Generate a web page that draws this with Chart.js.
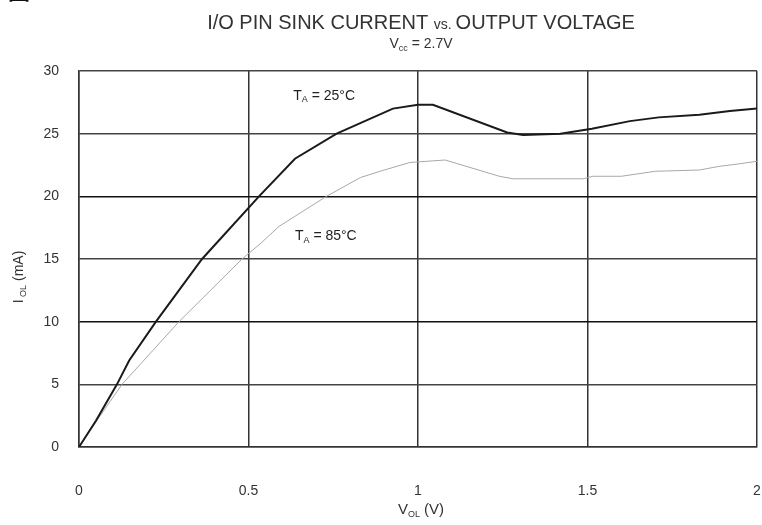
<!DOCTYPE html>
<html>
<head>
<meta charset="utf-8">
<script src="https://cdn.jsdelivr.net/npm/chart.js@4/dist/chart.umd.min.js"></script>
<style>
html,body{margin:0;padding:0;background:#fff;}
#wrap{position:relative;width:762px;height:525px;}
</style>
</head>
<body>
<div id="wrap"><canvas id="c" width="762" height="525"></canvas></div>
<script>
// ---- data ----
const v25 = [0, 0.05, 0.112, 0.148, 0.227, 0.363, 0.531, 0.637, 0.76, 0.926, 1.0, 1.044, 1.263, 1.31, 1.42, 1.513, 1.625, 1.71, 1.83, 1.92, 2.0];
const i25 = [0, 2.1, 5, 6.9, 10, 15, 20, 23, 25, 27, 27.3, 27.3, 25.1, 24.9, 25.0, 25.4, 26.0, 26.3, 26.5, 26.8, 27.0];
const v85 = [0, 0.05, 0.127, 0.295, 0.481, 0.534, 0.59, 0.73, 0.83, 0.888, 0.976, 1.08, 1.24, 1.28, 1.487, 1.516, 1.6, 1.7, 1.83, 1.89, 1.95, 2.0];
const i85 = [0, 2.0, 5, 10, 15, 16.2, 17.6, 20, 21.5, 22.0, 22.7, 22.9, 21.6, 21.4, 21.4, 21.6, 21.6, 22.0, 22.1, 22.4, 22.6, 22.8];
const xTicks = [0, 0.5, 1, 1.5, 2];
const yTicks = [0, 5, 10, 15, 20, 25, 30];
const seriesLabels = ["TA = 25°C", "TA = 85°C"];

const toPts = (xs, ys) => xs.map((x, k) => ({x: x, y: ys[k]}));
const FONT = "'Liberation Sans', Arial, sans-serif";

// draws text with subscript pieces: parts = [[text, isSub], ...]
function drawRich(ctx, parts, x, y, size, align) {
  const subSize = Math.round(size * 0.62);
  let total = 0;
  parts.forEach(p => { ctx.font = (p[1] ? subSize : size) + "px " + FONT; total += ctx.measureText(p[0]).width; });
  let cx = align === "center" ? x - total / 2 : x;
  ctx.textAlign = "left";
  ctx.textBaseline = "alphabetic";
  parts.forEach(p => {
    ctx.font = (p[1] ? subSize : size) + "px " + FONT;
    ctx.fillText(p[0], cx, p[1] ? y + size * 0.18 : y);
    cx += ctx.measureText(p[0]).width;
  });
}

const textPlugin = {
  id: "texts",
  afterDraw(chart) {
    const ctx = chart.ctx;
    const xs = chart.scales.x, ys = chart.scales.y;
    ctx.save();
    ctx.fillStyle = "#111";
    // clipped caption at top-left
    ctx.font = "bold 22px 'Noto Sans CJK SC'";
    ctx.textBaseline = "bottom";
    ctx.textAlign = "left";
    ctx.fillText("图 51", 8, 2);
    // title
    ctx.fillStyle = "#333";
    const cx = (chart.chartArea.left + chart.chartArea.right) / 2 + 3;
    const t1 = "I/O PIN SINK CURRENT ", t2 = "vs. ", t3 = "OUTPUT VOLTAGE";
    ctx.font = "20px " + FONT; const w1 = ctx.measureText(t1).width, w3 = ctx.measureText(t3).width;
    ctx.font = "14px " + FONT; const w2 = ctx.measureText(t2).width;
    let sx = cx - (w1 + w2 + w3) / 2;
    ctx.textAlign = "left"; ctx.textBaseline = "alphabetic";
    ctx.font = "20px " + FONT; ctx.fillText(t1, sx, 29); sx += w1;
    ctx.font = "14px " + FONT; ctx.fillText(t2, sx, 29); sx += w2;
    ctx.font = "20px " + FONT; ctx.fillText(t3, sx, 29);
    // subtitle
    drawRich(ctx, [["V", false], ["cc", true], [" = 2.7V", false]], cx, 48, 14, "center");
    // x axis title
    drawRich(ctx, [["V", false], ["OL", true], [" (V)", false]], cx, 514, 15, "center");
    // y axis title (rotated)
    ctx.save();
    ctx.translate(23, 277);
    ctx.rotate(-Math.PI / 2);
    drawRich(ctx, [["I", false], [" OL", true], [" (mA)", false]], 0, 0, 14, "center");
    ctx.restore();
    // series annotations
    ctx.fillStyle = "#222";
    drawRich(ctx, [["T", false], ["A", true], [" = 25°C", false]], xs.getPixelForValue(0.632), ys.getPixelForValue(27.7), 14, "left");
    drawRich(ctx, [["T", false], ["A", true], [" = 85°C", false]], xs.getPixelForValue(0.637), ys.getPixelForValue(16.5), 14, "left");
    ctx.restore();
  }
};

new Chart(document.getElementById("c"), {
  type: "line",
  data: {
    datasets: [
      { label: seriesLabels[0], data: toPts(v25, i25), borderColor: "#1a1a1a", borderWidth: 2, pointRadius: 0, tension: 0 },
      { label: seriesLabels[1], data: toPts(v85, i85), borderColor: "#a8a8a8", borderWidth: 1, pointRadius: 0, tension: 0 }
    ]
  },
  options: {
    responsive: false,
    animation: false,
    layout: { padding: { left: 0, right: 5, top: 71, bottom: 0 } },
    plugins: { legend: { display: false }, tooltip: { enabled: false }, title: { display: false } },
    scales: {
      x: {
        type: "linear", min: 0, max: 2,
        afterBuildTicks: s => { s.ticks = xTicks.map(v => ({value: v})); },
        afterFit: s => { s.height = 78; s.paddingLeft = 0; s.paddingRight = 0; },
        grid: { color: "#333", lineWidth: 1.5, drawTicks: false },
        border: { display: true, color: "#333", width: 1.5 },
        ticks: { padding: 36, color: "#333", font: { family: FONT, size: 14 }, callback: v => String(v), maxRotation: 0 }
      },
      y: {
        min: 0, max: 30,
        afterBuildTicks: s => { s.ticks = yTicks.map(v => ({value: v})); },
        afterFit: s => { s.width = 79; s.paddingTop = 0; s.paddingBottom = 0; },
        grid: { color: c => (c.tick && (c.tick.value === 20 || c.tick.value === 10)) ? "#111" : "#444", lineWidth: 1.5, drawTicks: false },
        border: { display: true, color: "#333", width: 1.5 },
        ticks: { padding: 20, color: "#333", font: { family: FONT, size: 14 } }
      }
    }
  },
  plugins: [textPlugin]
});
</script>
</body>
</html>
